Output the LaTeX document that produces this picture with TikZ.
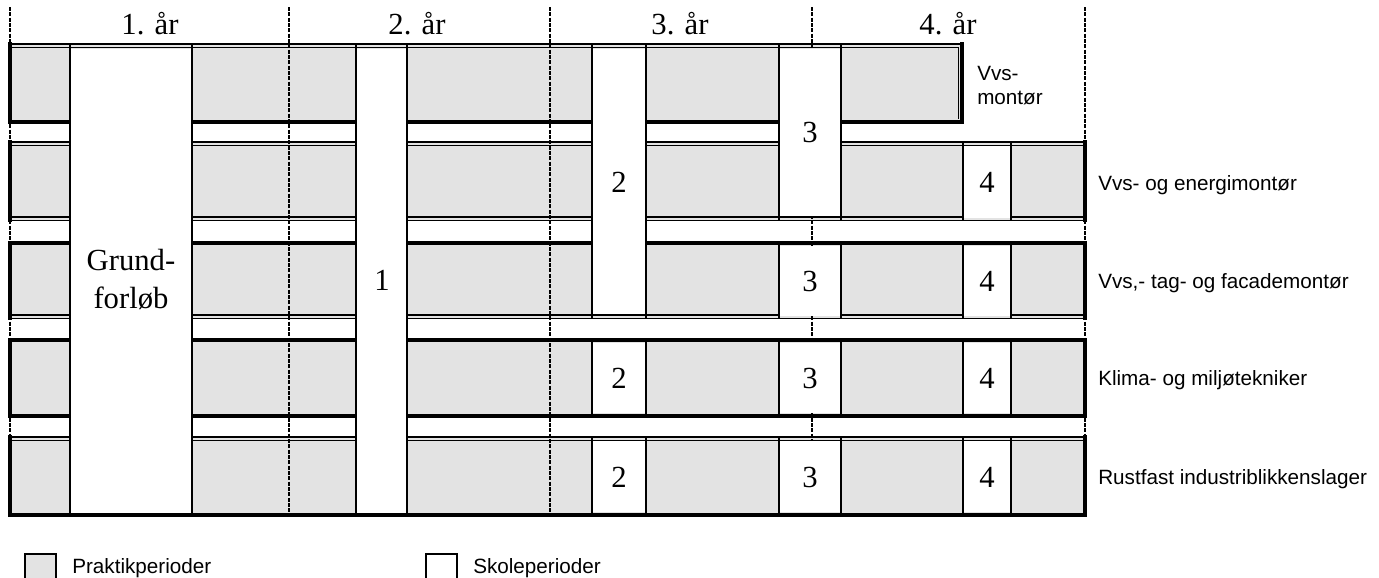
\documentclass[tikz,border=0pt]{standalone}
\usepackage{fontspec}
\setmainfont{Liberation Serif}
\setsansfont{Liberation Sans}
\definecolor{prak}{gray}{0.89}
\tikzset{
  thk/.style={line width=2.6pt, line cap=rect},
  thn/.style={line width=1pt},
  vline/.style={line width=1.8pt},
  yeardash/.style={line width=1.3pt, black, dash pattern=on 3pt off 1pt},
  serif/.style={inner sep=0pt, font=\fontsize{23pt}{27pt}\selectfont},
  sans/.style={inner sep=0pt, font=\sffamily\fontsize{15.5pt}{18pt}\selectfont},
}
\begin{document}
\begin{tikzpicture}[x=0.75pt,y=-0.75pt]
\useasboundingbox (0,0) rectangle (1379,578);
% ---------- rows (praktik) ----------
\fill[prak] (10,45) rectangle (962,122);
\fill[prak] (10,143) rectangle (1085,220);
\fill[prak] (10,243) rectangle (1085,318);
\fill[prak] (10,340) rectangle (1085,416);
\fill[prak] (10,438) rectangle (1085,515);
% row 1
\draw[thn] (10,44) -- (963,44);
\draw[thn] (10,47.5) -- (959,47.5);
\draw[thk] (10,122) -- (962,122);
\draw[thk] (10,44) -- (10,122);
\draw[thn] (958.5,47.5) -- (958.5,119);
\draw[thk] (962,44) -- (962,122);
% row 2
\draw[thn] (10,142) -- (1085,142);
\draw[thn] (10,145.5) -- (1085,145.5);
\draw[thn] (10,217) -- (1085,217);
\draw[thn] (10,220.5) -- (1085,220.5);
\draw[thk] (10,142) -- (10,220.5);
\draw[thk] (1085,142) -- (1085,220.5);
% row 3
\draw[thk] (10,243) -- (1085,243);
\draw[thn] (10,315) -- (1085,315);
\draw[thn] (10,318.5) -- (1085,318.5);
\draw[thk] (10,243) -- (10,318.5);
\draw[thk] (1085,243) -- (1085,318.5);
% row 4
\draw[thk] (10,340) -- (1085,340);
\draw[thk] (10,416) -- (1085,416);
\draw[thk] (10,340) -- (10,416);
\draw[thk] (1085,340) -- (1085,416);
% row 5
\draw[thn] (10,437) -- (1085,437);
\draw[thn] (10,440.5) -- (1085,440.5);
\draw[thk] (10,515) -- (1085,515);
\draw[thk] (10,437) -- (10,515);
\draw[thk] (1085,437) -- (1085,515);
% ---------- year dividers ----------
\foreach \xx in {10,289,550,812,1085}
  \draw[yeardash] (\xx,7) -- (\xx,515);
% ---------- skole periods ----------
% long columns
\fill[white] (70,49) rectangle (192,513);
\draw[vline] (70,44) -- (70,515); \draw[vline] (192,44) -- (192,515);
\fill[white] (356,49) rectangle (407,513);
\draw[vline] (356,44) -- (356,515); \draw[vline] (407,44) -- (407,515);
\fill[white] (592,49) rectangle (646,314);
\draw[vline] (592,44) -- (592,318.5); \draw[vline] (646,44) -- (646,318.5);
\fill[white] (779,49) rectangle (841,216);
\draw[vline] (779,44) -- (779,220.5); \draw[vline] (841,44) -- (841,220.5);
% single boxes
\foreach \xa/\xb/\ya/\yb in {963/1011/143/220.5,
    779/841/243/318.5, 963/1011/243/318.5,
    592/646/340/416, 779/841/340/416, 963/1011/340/416,
    592/646/438/515, 779/841/438/515, 963/1011/438/515}{
  \fill[white] (\xa,\ya+3) rectangle (\xb,\yb-3);
  \draw[vline] (\xa,\ya) -- (\xa,\yb); \draw[vline] (\xb,\ya) -- (\xb,\yb);
}
% ---------- header ----------
\node[serif, anchor=base] (y1) at (150,35) {1. år};
\node[serif, anchor=base] (y2) at (417,35) {2. år};
\node[serif, anchor=base] (y3) at (680,35) {3. år};
\node[serif, anchor=base] (y4) at (948,35) {4. år};
% ---------- labels in school periods ----------
\node[serif, anchor=base] (g1) at (131,270) {Grund-};
\node[serif, anchor=base] (g2) at (131,308) {forløb};
\node[serif, anchor=base] (n1) at (382,290) {1};
\node[serif, anchor=base] (n2a) at (619,192) {2};
\node[serif, anchor=base] (n3a) at (810,142) {3};
\node[serif, anchor=base] (n4b) at (987,192) {4};
\node[serif, anchor=base] (n3c) at (810,291) {3};
\node[serif, anchor=base] (n4c) at (987,291) {4};
\node[serif, anchor=base] (n2d) at (619,388) {2};
\node[serif, anchor=base] (n3d) at (810,388) {3};
\node[serif, anchor=base] (n4d) at (987,388) {4};
\node[serif, anchor=base] (n2e) at (619,487) {2};
\node[serif, anchor=base] (n3e) at (810,487) {3};
\node[serif, anchor=base] (n4e) at (987,487) {4};
% ---------- row labels ----------
\node[sans, anchor=base west] (r1a) at (977,80) {Vvs-};
\node[sans, anchor=base west] (r1b) at (977,104) {montør};
\node[sans, anchor=base west] (r2) at (1098,190) {Vvs- og energimontør};
\node[sans, anchor=base west] (r3) at (1098,288) {Vvs,- tag- og facademontør};
\node[sans, anchor=base west] (r4) at (1098,385) {Klima- og miljøtekniker};
\node[sans, anchor=base west] (r5) at (1098,484) {Rustfast industriblikkenslager};
% ---------- legend ----------
\draw[vline, fill=prak] (25,582) -- (25,554) -- (56,554) -- (56,582);
\node[sans, anchor=base west] (lp) at (72,573) {Praktikperioder};
\draw[vline, fill=white] (426,582) -- (426,554) -- (457,554) -- (457,582);
\node[sans, anchor=base west] (ls) at (473,573) {Skoleperioder};
\end{tikzpicture}
\end{document}
